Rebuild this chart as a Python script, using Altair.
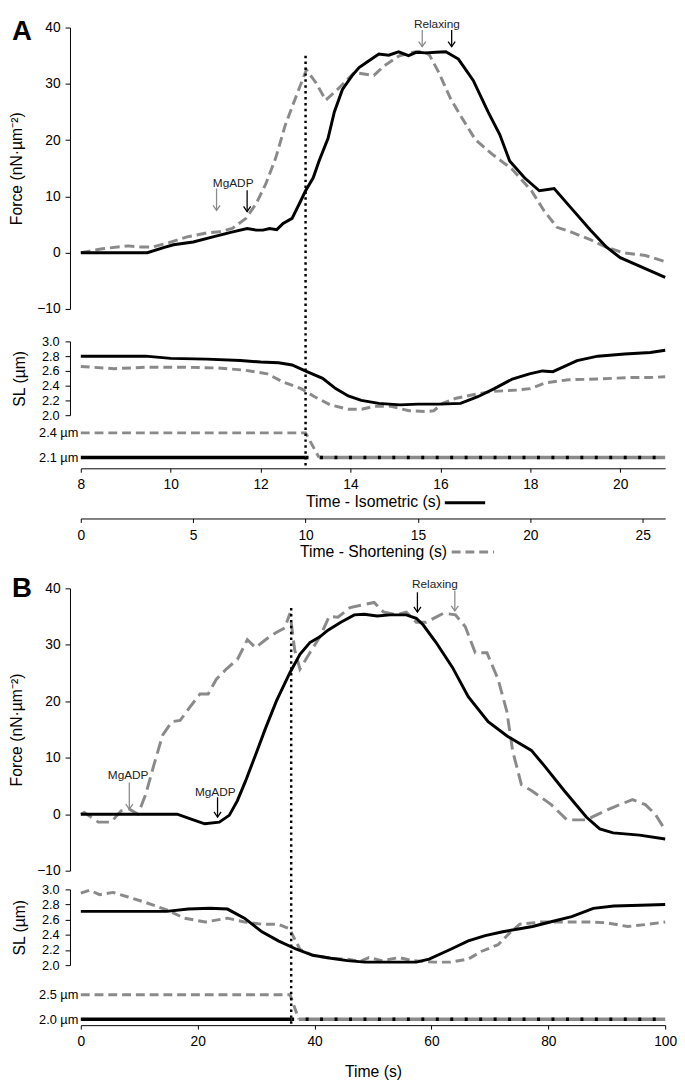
import altair as alt
import pandas as pd

# ================= DATA =================
# ---- Panel A : force (nN·µm⁻²) ----
A_iso_t = [8.0, 9.48, 9.84, 10.06, 10.5, 10.94, 11.38, 11.7, 11.9, 12.05,
           12.2, 12.36, 12.5, 12.7, 12.88, 13.0, 13.17, 13.3, 13.5, 13.64,
           13.82, 14.04, 14.19, 14.41, 14.63, 14.85, 15.07, 15.29, 15.46, 15.68,
           15.9, 16.12, 16.4, 16.73, 17.06, 17.32, 17.54, 17.87, 18.2, 18.53,
           18.9, 19.34, 19.69, 20.0, 20.43, 21.0]
A_iso_force = [0, 0, 0.9, 1.4, 1.9, 2.8, 3.7, 4.3, 4.0, 4.0,
               4.3, 4.1, 5.2, 6.1, 9.0, 11.0, 13.3, 16.3, 20.3, 25.0,
               29.0, 31.5, 32.9, 34.1, 35.3, 35.1, 35.7, 35.0, 35.6, 35.5,
               35.6, 35.7, 34.4, 30.6, 25.0, 21.0, 16.3, 13.3, 11.0, 11.4,
               8.0, 4.0, 1.0, -0.9, -2.4, -4.4]
A_short_t = [0, 0.96, 2.1, 2.67, 3.2, 3.85, 4.73, 5.6, 6.17, 6.74,
             7.35, 7.8, 8.23, 8.67, 9.1, 9.6, 10.04, 10.46, 10.9, 11.42,
             12.17, 13.04, 13.5, 14.18, 14.79, 15.2, 15.5, 15.93, 16.46, 16.98,
             17.55, 18.3, 19.17, 20.05, 20.6, 21.19, 21.8, 22.67, 23.37, 24.12,
             25.12, 26.0]
A_short_force = [0, 0.7, 1.2, 1.0, 1.0, 1.7, 2.8, 3.5, 3.7, 4.3,
                 6.1, 8.7, 12.2, 16.8, 22.7, 28.0, 32.5, 30.2, 27.1, 29.0,
                 32.0, 31.5, 33.2, 35.0, 35.6, 35.8, 35.2, 32.0, 27.3, 23.8,
                 20.1, 17.5, 14.9, 11.0, 7.5, 4.5, 3.7, 2.3, 1.0, 0.0,
                 -0.5, -1.6]
# ---- Panel A : sarcomere length (µm) ----
A_iso_sl_t = [8.0, 9.44, 10.0, 10.8, 11.55, 12.0, 12.4, 12.7, 13.03, 13.38,
              13.67, 13.95, 14.24, 14.63, 15.1, 15.5, 15.97, 16.45, 16.83, 17.2,
              17.6, 17.98, 18.27, 18.5, 18.65, 19.04, 19.5, 20.1, 20.67, 21.0]
A_iso_sl = [2.80, 2.80, 2.77, 2.76, 2.74, 2.72, 2.71, 2.68, 2.59, 2.50,
            2.36, 2.26, 2.20, 2.16, 2.14, 2.15, 2.15, 2.16, 2.25, 2.36,
            2.49, 2.56, 2.60, 2.59, 2.63, 2.74, 2.80, 2.83, 2.85, 2.88]
A_short_sl_t = [0, 1.5, 2.9, 4.6, 6.1, 7.3, 8.3, 9.0, 9.8, 10.4,
                11.1, 11.9, 12.5, 13.05, 13.8, 14.6, 15.4, 15.7, 16.1, 16.7,
                17.5, 18.25, 19.4, 20.0, 20.7, 21.7, 23.0, 24.4, 25.3, 26.0]
A_short_sl = [2.66, 2.63, 2.65, 2.65, 2.64, 2.61, 2.56, 2.45, 2.36, 2.25,
              2.14, 2.08, 2.08, 2.12, 2.12, 2.06, 2.05, 2.06, 2.16, 2.23,
              2.28, 2.32, 2.34, 2.36, 2.44, 2.48, 2.49, 2.51, 2.51, 2.52]
# ---- Panel A : SL set-points ----
A_step_short_t = [0, 10.0, 10.6]
A_step_short = [2.4, 2.4, 2.1]
A_step_short_flat_t = [10.6, 26.0]
A_step_short_flat = [2.1, 2.1]
A_step_iso_t = [8.0, 13.0]
A_step_iso = [2.1, 2.1]
A_step_iso_dot_t = [13.0, 21.0]
A_step_iso_dot = [2.1, 2.1]
A_step_ticks = [2.1, 2.4]
# ---- Panel A : switch line and annotations ----
A_switch_t = [13.0]
A_switch_top = [35.0]
A_arrow_iso_t = [11.7, 16.25]
A_arrow_iso_top = [11.1, 39.55]
A_arrow_iso_bot = [7.3, 36.6]
A_arrow_short_t = [6.04, 15.19]
A_arrow_short_top = [11.4, 39.55]
A_arrow_short_bot = [7.5, 36.6]
A_note_t = [11.39, 15.92]
A_note_f = [12.3, 40.7]
A_note = ["MgADP", "Relaxing"]
A_iso_ticks = [8, 10, 12, 14, 16, 18, 20]
A_short_ticks = [0, 5, 10, 15, 20, 25]

# ---- Panel B : force ----
B_black_t = [0, 16.5, 19.0, 21.2, 23.7, 25.4, 26.8, 28.2, 29.9, 31.6,
             33.5, 35.8, 37.5, 39.2, 40.9, 42.3, 44.5, 46.8, 48.5, 50.7,
             52.9, 55.7, 57.4, 58.6, 60.8, 63.6, 66.3, 69.7, 73.0, 77.1,
             79.3, 82.7, 86.5, 88.8, 91.1, 95.6, 100]
B_black_force = [0, 0, -0.9, -1.7, -1.4, -0.2, 2.4, 5.9, 10.5, 15.2,
                 20.1, 25.1, 28.3, 30.4, 31.4, 32.6, 34.0, 35.3, 35.4, 35.1,
                 35.3, 35.3, 34.7, 33.5, 30.4, 26.0, 20.8, 16.4, 13.8, 11.3,
                 8.6, 4.2, -0.5, -2.6, -3.3, -3.7, -4.4]
B_gray_t = [0, 0.6, 3.0, 5.2, 6.9, 8.3, 9.8, 11.1, 12.5, 14.0,
            15.6, 17.0, 18.7, 20.4, 21.8, 23.2, 24.9, 26.8, 28.5, 29.9,
            31.6, 33.3, 34.9, 35.8, 36.6, 37.5, 39.2, 40.9, 42.5, 44.0,
            46.1, 47.9, 50.2, 51.8, 54.0, 55.7, 57.4, 59.1, 60.8, 62.1,
            64.1, 65.8, 67.5, 69.5, 71.4, 72.9, 73.9, 75.4, 77.1, 80.5,
            83.2, 86.5, 89.9, 94.4, 96.6, 98.3, 100]
B_gray_force = [0, 0.3, -1.4, -1.4, 0.6, 0.9, 0.0, 3.5, 8.7, 14.0,
                16.4, 16.6, 19.0, 21.3, 21.3, 23.9, 25.7, 27.4, 30.9, 29.5,
                30.9, 32.1, 33.0, 35.6, 29.1, 25.7, 28.6, 31.4, 35.0, 34.9,
                36.6, 37.0, 37.5, 35.8, 35.3, 35.8, 34.0, 34.0, 34.9, 35.6,
                35.3, 33.2, 28.6, 28.6, 23.9, 18.2, 11.2, 5.2, 4.2, 1.7,
                -1.0, -1.0, 0.7, 2.6, 1.7, 0.0, -2.8]
# ---- Panel B : sarcomere length ----
B_black_sl_t = [0, 14.7, 18.4, 22.1, 25.1, 28.0, 31.0, 33.8, 36.9, 39.7,
                42.8, 45.6, 48.6, 53.0, 57.4, 59.6, 63.3, 66.3, 69.2, 72.2,
                75.1, 77.3, 80.3, 84.0, 87.7, 91.2, 95.8, 100]
B_black_sl = [2.71, 2.71, 2.74, 2.75, 2.74, 2.62, 2.44, 2.32, 2.21, 2.13,
              2.09, 2.06, 2.04, 2.04, 2.04, 2.08, 2.21, 2.32, 2.39, 2.44,
              2.48, 2.51, 2.57, 2.64, 2.75, 2.78, 2.79, 2.80]
B_gray_sl_t = [0, 1.5, 3.2, 5.5, 8.1, 11.0, 14.7, 17.7, 21.3, 25.1,
               28.0, 31.0, 33.8, 35.7, 37.5, 39.7, 42.8, 45.6, 47.8, 49.3,
               51.5, 54.5, 56.7, 60.4, 63.3, 66.3, 68.5, 71.4, 73.6, 75.1,
               78.8, 82.5, 86.9, 89.9, 93.6, 97.1, 100]
B_gray_sl = [2.95, 2.99, 2.93, 2.96, 2.90, 2.83, 2.73, 2.62, 2.57, 2.62,
             2.57, 2.54, 2.54, 2.48, 2.21, 2.13, 2.09, 2.08, 2.05, 2.10,
             2.06, 2.10, 2.06, 2.04, 2.04, 2.08, 2.18, 2.27, 2.44, 2.54,
             2.57, 2.57, 2.57, 2.56, 2.51, 2.54, 2.57]
# ---- Panel B : set-points ----
B_step_gray_t = [0, 35.8, 37.3]
B_step_gray = [2.5, 2.5, 2.0]
B_step_gray_flat_t = [37.3, 100]
B_step_gray_flat = [2.0, 2.0]
B_step_black_t = [0, 36.0]
B_step_black = [2.0, 2.0]
B_step_black_dot_t = [36.0, 100]
B_step_black_dot = [2.0, 2.0]
B_step_ticks = [2.0, 2.5]
# ---- Panel B : switch line and annotations ----
B_switch_t = [36.0]
B_switch_top = [36.5]
B_arrow_black_t = [23.4, 57.6]
B_arrow_black_top = [3.0, 39.3]
B_arrow_black_bot = [-0.5, 35.8]
B_arrow_gray_t = [8.3, 64.0]
B_arrow_gray_top = [5.6, 39.6]
B_arrow_gray_bot = [0.9, 36.0]
B_note_t = [8.1, 23.0, 60.6]
B_note_f = [7.0, 3.9, 40.8]
B_note = ["MgADP", "MgADP", "Relaxing"]
B_ticks = [0, 20, 40, 60, 80, 100]

force_ticks = [-10, 0, 10, 20, 30, 40]
sl_ticks = [2.0, 2.2, 2.4, 2.6, 2.8, 3.0]

# ================= STYLE / LAYOUT =================
FONT = "Liberation Sans"
GRAY = "#8a8a8a"
INK = "#222222"
W = 594
ARROW = "M-0.9,-1.3L0,0L0.9,-1.3"

AXC = dict(domainColor="black", tickColor="black", labelColor="black",
           titleColor="black", labelFont=FONT, titleFont=FONT, grid=False,
           titleFontWeight="normal", labelFlush=False, labelOverlap=False,
           domainWidth=1, tickWidth=1)


def frame(t, v):
    return pd.DataFrame({"t": t, "v": v})


def X(dom, axis=None):
    return alt.X("t:Q", scale=alt.Scale(domain=dom, nice=False, zero=False), axis=axis)


def Y(dom, rng, axis=None, field="v"):
    return alt.Y(f"{field}:Q",
                 scale=alt.Scale(domain=dom, range=rng, nice=False, zero=False),
                 axis=axis)


def line(t, v, xdom, ydom, yrng, color, width, dash=None, xaxis=None, yaxis=None):
    kw = dict(color=color, strokeWidth=width, clip=False, strokeCap="butt")
    if dash:
        kw["strokeDash"] = dash
    return alt.Chart(frame(t, v)).mark_line(**kw).encode(
        x=X(xdom, xaxis), y=Y(ydom, yrng, yaxis))


def arrows(t, top, bot, xdom, ydom, yrng, color):
    d = pd.DataFrame({"t": t, "top": top, "bot": bot})
    shaft = alt.Chart(d).mark_rule(color=color, strokeWidth=1.3).encode(
        x=X(xdom), y=Y(ydom, yrng, field="top"), y2="bot:Q")
    head = alt.Chart(d).mark_point(shape=ARROW, filled=False, size=64, color=color,
                                   strokeWidth=1.3, opacity=1).encode(
        x=X(xdom), y=Y(ydom, yrng, field="bot"))
    return [shaft, head]


def notes(t, f, labels, xdom, ydom, yrng):
    d = pd.DataFrame({"t": t, "f": f, "label": labels})
    return alt.Chart(d).mark_text(font=FONT, fontSize=12, color=INK, baseline="middle").encode(
        x=X(xdom), y=Y(ydom, yrng, field="f"), text="label:N")


def panel_label(letter, ypos):
    return alt.Chart(pd.DataFrame({"label": [letter]})).mark_text(
        font=FONT, fontSize=28, fontWeight="bold", align="left",
        baseline="alphabetic", color="black").encode(
        x=alt.value(-70), y=alt.value(ypos), text="label:N")


def force_axis():
    return alt.Axis(values=force_ticks, orient="left", offset=11, tickSize=5,
                    labelPadding=5, labelFontSize=14, title="Force (nN·µm⁻²)",
                    titleFontSize=16, titlePadding=13, **AXC)


def sl_axis():
    return alt.Axis(values=sl_ticks, format=".1f", orient="left", offset=11, tickSize=5,
                    labelPadding=6, labelFontSize=13, title="SL (µm)",
                    titleFontSize=16, titlePadding=14, **AXC)


def step_axis(vals):
    return alt.Axis(values=vals, orient="left", offset=0, domain=False, ticks=False,
                    labelPadding=3, labelFontSize=13, title=None,
                    labelExpr="format(datum.value, '.1f') + ' µm'", **AXC)


def x_axis(vals, title, offset, title_pad):
    return alt.Axis(values=vals, orient="bottom", offset=offset, tickSize=4,
                    labelPadding=6, labelFontSize=14, title=title,
                    titleFontSize=16, titlePadding=title_pad, **AXC)


# ================= PANEL A =================
A_H = 448
A_XI = [8, 21]
A_XS = [0, 26]
A_FD, A_FR = [-10, 40], [286, 0]
A_SD, A_SR = [2.0, 3.0], [394, 319]
A_TD, A_TR = [2.1, 2.4], [437, 412]

a_layers = [
    line(A_short_sl_t, A_short_sl, A_XS, A_SD, A_SR, GRAY, 3, [9, 5]),
    line(A_iso_sl_t, A_iso_sl, A_XI, A_SD, A_SR, "black", 3, yaxis=sl_axis()),
    line(A_step_short_t, A_step_short, A_XS, A_TD, A_TR, GRAY, 3, [9, 5]),
    line(A_step_short_flat_t, A_step_short_flat, A_XS, A_TD, A_TR, GRAY, 3.5),
    line(A_step_iso_t, A_step_iso, A_XI, A_TD, A_TR, "black", 3.5, yaxis=step_axis(A_step_ticks)),
    line(A_step_iso_dot_t, A_step_iso_dot, A_XI, A_TD, A_TR, "black", 3.5, [3, 11.7]),
    line(A_short_t, A_short_force, A_XS, A_FD, A_FR, GRAY, 3, [10, 5],
         xaxis=x_axis(A_short_ticks, "Time - Shortening (s)", 51, 2)),
    line(A_iso_t, A_iso_force, A_XI, A_FD, A_FR, "black", 3,
         xaxis=x_axis(A_iso_ticks, "Time - Isometric (s)", 0, 2), yaxis=force_axis()),
    alt.Chart(frame(A_switch_t, A_switch_top)).mark_rule(
        color="black", strokeWidth=2.5, strokeDash=[2.5, 3.5]).encode(
        x=X(A_XI), y=Y(A_FD, A_FR), y2=alt.value(A_H)),
    *arrows(A_arrow_short_t, A_arrow_short_top, A_arrow_short_bot, A_XS, A_FD, A_FR, GRAY),
    *arrows(A_arrow_iso_t, A_arrow_iso_top, A_arrow_iso_bot, A_XI, A_FD, A_FR, "black"),
    notes(A_note_t, A_note_f, A_note, A_XI, A_FD, A_FR),
    panel_label("A", 13),
    alt.Chart(pd.DataFrame({"k": [0]})).mark_rule(color="black", strokeWidth=3).encode(
        x=alt.value(370), x2=alt.value(411), y=alt.value(483)),
    alt.Chart(pd.DataFrame({"k": [0]})).mark_rule(color=GRAY, strokeWidth=3, strokeDash=[9, 5]).encode(
        x=alt.value(377), x2=alt.value(420), y=alt.value(533)),
]
chart_a = alt.layer(*a_layers).resolve_scale(x="independent", y="independent").properties(
    width=W, height=A_H)

# ================= PANEL B =================
B_H = 444
B_X = [0, 100]
B_FD, B_FR = [-10, 40], [287, 0]
B_SD, B_SR = [2.0, 3.0], [383, 306]
B_TD, B_TR = [2.0, 2.5], [438, 413]

b_layers = [
    line(B_gray_sl_t, B_gray_sl, B_X, B_SD, B_SR, GRAY, 3, [9, 5]),
    line(B_black_sl_t, B_black_sl, B_X, B_SD, B_SR, "black", 3, yaxis=sl_axis()),
    line(B_step_gray_t, B_step_gray, B_X, B_TD, B_TR, GRAY, 3, [9, 5]),
    line(B_step_gray_flat_t, B_step_gray_flat, B_X, B_TD, B_TR, GRAY, 3.5),
    line(B_step_black_t, B_step_black, B_X, B_TD, B_TR, "black", 3.5, yaxis=step_axis(B_step_ticks)),
    line(B_step_black_dot_t, B_step_black_dot, B_X, B_TD, B_TR, "black", 3.5, [3, 11.7]),
    line(B_gray_t, B_gray_force, B_X, B_FD, B_FR, GRAY, 3, [13, 6]),
    line(B_black_t, B_black_force, B_X, B_FD, B_FR, "black", 3,
         xaxis=x_axis(B_ticks, "Time (s)", 0, 15), yaxis=force_axis()),
    alt.Chart(frame(B_switch_t, B_switch_top)).mark_rule(
        color="black", strokeWidth=2.5, strokeDash=[2.5, 3.5]).encode(
        x=X(B_X), y=Y(B_FD, B_FR), y2=alt.value(B_H)),
    *arrows(B_arrow_gray_t, B_arrow_gray_top, B_arrow_gray_bot, B_X, B_FD, B_FR, GRAY),
    *arrows(B_arrow_black_t, B_arrow_black_top, B_arrow_black_bot, B_X, B_FD, B_FR, "black"),
    notes(B_note_t, B_note_f, B_note, B_X, B_FD, B_FR),
    panel_label("B", 9),
]
chart_b = alt.layer(*b_layers).resolve_scale(x="independent", y="independent").properties(
    width=W, height=B_H)

chart = alt.vconcat(chart_a, chart_b, spacing=122, bounds="flush").properties(
    padding=0, background="white").configure_view(stroke=None)

chart.save("out.html", embed_options={"renderer": "svg", "actions": False})
